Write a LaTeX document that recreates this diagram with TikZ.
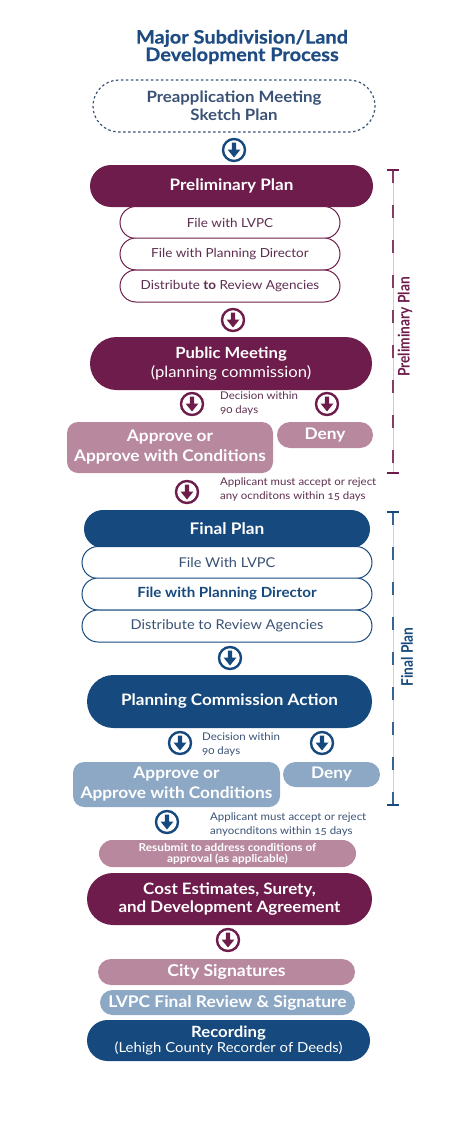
\documentclass[tikz,border=0pt]{standalone}
\usepackage{fontspec}
\setmainfont{Lato}[Numbers=OldStyle, FakeStretch=1.08]
\newfontfamily\heavyfont{Lato}[Numbers=OldStyle, FakeStretch=1.08, BoldFeatures={FakeBold=0.6}]
\newfontfamily\condfont{Lato}[FakeStretch=0.86]
\usetikzlibrary{shapes.misc}
\definecolor{maroon}{HTML}{6E1C4B}
\definecolor{mauve}{HTML}{B8889F}
\definecolor{navy}{HTML}{16497D}
\definecolor{steel}{HTML}{8DA8C4}
\definecolor{titleblue}{HTML}{1E4C82}
\definecolor{greyblue}{HTML}{3A5275}
\definecolor{maroontext}{HTML}{5E2E50}
\newcommand{\fs}[1]{\fontsize{#1}{#1}\selectfont}
\tikzset{
  pill/.style={rounded rectangle, inner sep=0pt, text=white, font=\bfseries\fs{15.8}, align=center},
  rbox/.style={rectangle, rounded corners=11pt, inner sep=0pt, text=white, font=\bfseries\fs{16}, align=center},
  subm/.style={rounded rectangle, draw=maroon, line width=1pt, fill=white, inner sep=0pt, minimum width=220pt, minimum height=32pt, text=maroontext, font=\fs{12.5}},
  subb/.style={rounded rectangle, draw=navy, line width=1pt, fill=white, inner sep=0pt, minimum width=290pt, minimum height=32pt, text=greyblue, font=\fs{13.5}},
  note/.style={anchor=west, align=left, inner sep=0pt, font=\fontsize{10.6}{14}\selectfont},
  icon/.style={circle, draw=#1, line width=2.4pt, minimum size=22pt, inner sep=0pt},
  pics/dn/.style={code={\fill[#1] (-2.2,-7.5) -- (2.2,-7.5) -- (2.2,-0.5) -- (6.5,-0.5) -- (0,7.5) -- (-6.5,-0.5) -- (-2.2,-0.5) -- cycle;}},
  brk/.style={line width=2pt, dash pattern=on 13pt off 22pt},
  side/.style={rotate=90, font=\condfont\bfseries\fs{16}, inner sep=0pt},
}
\begin{document}
\begin{tikzpicture}[x=1pt,y=-1pt]
\useasboundingbox (0,0) rectangle (469,1132);
% title
\node[text=titleblue, font=\heavyfont\bfseries\fs{18.5}, align=center, inner sep=0pt] (title) at (242,47) {Major Subdivision/Land\\[-1pt]Development Process};
% preapplication
\node[rounded rectangle, draw=greyblue, line width=1.2pt, dash pattern=on 2.5pt off 2.5pt, minimum width=282pt, minimum height=52pt, inner sep=0pt, text=greyblue, font=\bfseries\fs{15.6}, align=center] (pre) at (234,106) {Preapplication Meeting\\[2pt]Sketch Plan};
\node[icon=navy] (i1) at (234,150) {}; \pic at (i1.center) {dn=navy};
% preliminary plan
\node[pill, fill=maroon, minimum width=283pt, minimum height=42pt] (pp) at (231.5,186) {Preliminary Plan};
\node[subm] (pp1) at (230,222.5) {File with LVPC};
\node[subm] (pp2) at (230,254) {File with Planning Director};
\node[subm] (pp3) at (230,286) {Distribute \textbf{to} Review Agencies};
\node[icon=maroon] (i2) at (233,320) {}; \pic at (i2.center) {dn=maroon};
\node[pill, fill=maroon, minimum width=282pt, minimum height=53pt, font=\fs{15.4}] (pm) at (231,363.5) {\textbf{Public Meeting}\\[3pt](planning commission)};
\node[icon=maroon] (i3) at (192,404) {}; \pic at (i3.center) {dn=maroon};
\node[icon=maroon] (i4) at (327,404) {}; \pic at (i4.center) {dn=maroon};
\node[note, text=maroontext] (d1) at (220,404) {Decision within\\90 days};
\node[rbox, fill=mauve, minimum width=206pt, minimum height=51pt] (ap1) at (170,447.5) {Approve or\\[4pt]Approve with Conditions};
\node[pill, fill=mauve, minimum width=96pt, minimum height=26pt, font=\bfseries\fs{16}] (dn1) at (325,435) {Deny};
\node[icon=maroon] (i5) at (187,492) {}; \pic at (i5.center) {dn=maroon};
\node[note, text=maroontext] (a1) at (220,489) {Applicant must accept or reject\\any ocnditons within 15 days};
% final plan
\node[pill, fill=navy, minimum width=286pt, minimum height=38pt, font=\bfseries\fs{16}] (fp) at (227,529) {Final Plan};
\node[subb] (fp1) at (227,562.5) {File With LVPC};
\node[subb, font=\bfseries\fs{14}, text=navy] (fp2) at (227,594) {File with Planning Director};
\node[subb] (fp3) at (227,626) {Distribute to Review Agencies};
\node[icon=navy] (i6) at (230,658) {}; \pic at (i6.center) {dn=navy};
\node[pill, fill=navy, minimum width=285pt, minimum height=53pt] (pca) at (229.5,701.5) {Planning Commission Action};
\node[icon=navy] (i7) at (180,743) {}; \pic at (i7.center) {dn=navy};
\node[icon=navy] (i8) at (322,743) {}; \pic at (i8.center) {dn=navy};
\node[note, text=greyblue] (d2) at (202,744) {Decision within\\90 days};
\node[rbox, fill=steel, minimum width=207pt, minimum height=45pt] (ap2) at (176.5,784.5) {Approve or\\[4pt]Approve with Conditions};
\node[pill, fill=steel, minimum width=97pt, minimum height=25pt, font=\bfseries\fs{16}] (dn2) at (331.5,774.5) {Deny};
\node[icon=navy] (i9) at (167,822) {}; \pic at (i9.center) {dn=navy};
\node[note, text=greyblue] (a2) at (210,824) {Applicant must accept or reject\\anyocnditons within 15 days};
% bottom
\node[pill, fill=mauve, minimum width=257pt, minimum height=27pt, font=\bfseries\fs{10.9}] (rs) at (227.5,853.5) {Resubmit to address conditions of\\[0pt]approval (as applicable)};
\node[pill, fill=maroon, minimum width=285pt, minimum height=52pt, font=\bfseries\fs{15.7}] (ce) at (229.5,899) {Cost Estimates, Surety,\\[3pt]and Development Agreement};
\node[icon=maroon] (i10) at (228,940) {}; \pic at (i10.center) {dn=maroon};
\node[pill, fill=mauve, minimum width=257pt, minimum height=26pt, font=\bfseries\fs{16.3}] (cs) at (226.5,972) {City Signatures};
\node[pill, fill=steel, minimum width=255pt, minimum height=25pt, font=\bfseries\fs{16.1}] (lv) at (227.5,1002.5) {LVPC Final Review \& Signature};
\node[pill, fill=navy, minimum width=283pt, minimum height=41pt, font=\fs{13.8}] (rc) at (228.5,1040.5) {\textbf{\fs{15.5}Recording}\\[2pt](Lehigh County Recorder of Deeds)};
% brackets
\coordinate (b1t) at (393,170); \coordinate (b1b) at (393,473);
\draw[mauve!50, line width=0.8pt] (b1t) -- (b1b);
\draw[maroon!85, brk] (b1t) -- (b1b);
\draw[maroon, line width=1.6pt] ([xshift=-6]b1t) -- ([xshift=6]b1t) ([xshift=-6]b1b) -- ([xshift=6]b1b);
\node[side, text=maroon] (l1) at (405,327) {Preliminary Plan};
\coordinate (b2t) at (393,512); \coordinate (b2b) at (393,805);
\draw[steel!50, line width=0.8pt] (b2t) -- (b2b);
\draw[navy!85, brk] (b2t) -- (b2b);
\draw[navy, line width=1.6pt] ([xshift=-6]b2t) -- ([xshift=6]b2t) ([xshift=-6]b2b) -- ([xshift=6]b2b);
\node[side, text=navy] (l2) at (407,657) {Final Plan};
\end{tikzpicture}
\end{document}
